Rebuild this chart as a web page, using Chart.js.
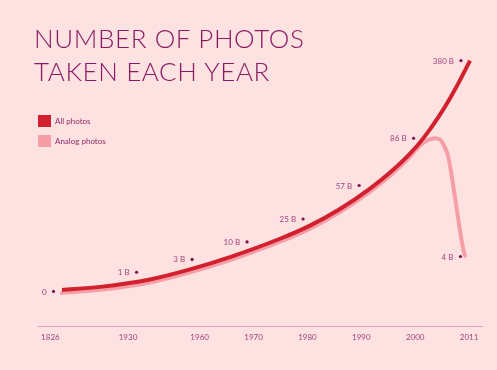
<!DOCTYPE html>
<html>
<head>
<meta charset="utf-8">
<script src="https://cdn.jsdelivr.net/npm/chart.js@4/dist/chart.umd.min.js"></script>
<style>
  html, body { margin: 0; padding: 0; background: #fde2e1; }
  #wrap { position: relative; width: 497px; height: 370px; overflow: hidden; background: #fde2e1; }
  #title {
    position: absolute; left: 34px; top: 21.5px; margin: 0;
    font-family: Lato, "Open Sans", sans-serif; font-weight: 300;
    font-size: 26px; line-height: 33.5px; letter-spacing: 0.6px;
    color: #8c1c62; white-space: nowrap;
  }
  canvas { position: absolute; left: 0; top: 0; }
</style>
</head>
<body>
<div id="wrap">
  <canvas id="c" width="497" height="370"></canvas>
  <h1 id="title">NUMBER OF PHOTOS<br>TAKEN EACH YEAR</h1>
</div>
<script>
// ---- data ----
// x axis: a stretched timeline; each labelled year sits at its slot
const tickYears = ['1826', '1930', '1960', '1970', '1980', '1990', '2000', '2011'];
const tickSlots = [2.3, 16.7, 30, 40, 50, 60, 70, 80];

// "All photos" curve (timeline slot, visual height level)
const allSlots  = [4.45, 11.51, 20.79, 28.21, 35.63, 44.91, 50.48, 56.05, 61.62, 65.33, 69.04, 71.64, 74.24, 76.47, 78.32, 80.18];
const allLevels = [12.7, 13.8, 16.4, 19.9, 24.2, 30.6, 35.2, 41.0, 48.1, 53.7, 60.3, 66.0, 72.9, 79.7, 86.0, 92.8];

// "Analog photos" curve
const analogSlots  = [4.45, 11.51, 20.79, 28.21, 35.63, 44.91, 50.48, 56.05, 61.62, 65.33, 69.04, 70.9, 72.4, 73.7, 74.6, 75.35, 76.15, 77.08, 78.0, 78.93, 79.25];
const analogLevels = [11.65, 12.75, 15.35, 18.85, 23.15, 29.55, 34.15, 39.95, 47.05, 52.6, 59.2, 63.2, 65.1, 65.7, 65.3, 63.1, 59.2, 48.8, 37.3, 26.8, 24.7];

// annotated values (marker dots with labels)
const valueLabels = ['0', '1 B', '3 B', '10 B', '25 B', '57 B', '86 B', '380 B', '4 B'];
const valueSlots  = [2.88, 18.3, 28.6, 38.8, 49.2, 59.6, 69.7, 78.5, 78.4];
const valueLevels = [12.2, 18.9, 23.4, 29.5, 37.5, 49.2, 65.7, 92.8, 24.4];

const seriesNames = ['All photos', 'Analog photos'];

// ---- styling ----
const RED = '#d2202f';
const PINK = '#f59ea6';
const DOT = '#7a1252';
const LABEL = '#a2457c';
const AXIS = '#d8a4bd';
const FONT = 'Lato, "Open Sans", sans-serif';

const toPoints = (xs, ys) => xs.map((x, i) => ({ x, y: ys[i] }));

const valueLabelPlugin = {
  id: 'valueLabels',
  afterDatasetsDraw(chart) {
    const meta = chart.getDatasetMeta(2);
    const ctx = chart.ctx;
    ctx.save();
    ctx.font = '8px ' + FONT;
    ctx.fillStyle = LABEL;
    ctx.textAlign = 'right';
    ctx.textBaseline = 'middle';
    meta.data.forEach((pt, i) => ctx.fillText(valueLabels[i], pt.x - 7, pt.y + 0.5));
    ctx.restore();
  }
};

const LEGEND_DROP = 67;
const legendPlacement = {
  id: 'legendPlacement',
  afterLayout(chart) {
    const lg = chart.legend;
    if (!lg) return;
    const pad = lg.options.labels.padding;
    const w = lg.width, h = lg.height;
    lg.left = chart.chartArea.left - pad;
    lg.top = chart.chartArea.top + LEGEND_DROP;
    lg.right = lg.left + w;
    lg.bottom = lg.top + h;
  }
};

new Chart(document.getElementById('c'), {
  type: 'line',
  data: {
    datasets: [
      {
        label: seriesNames[0],
        data: toPoints(allSlots, allLevels),
        borderColor: RED, backgroundColor: RED,
        borderWidth: 4, pointRadius: 0, fill: false,
        cubicInterpolationMode: 'monotone'
      },
      {
        label: seriesNames[1],
        data: toPoints(analogSlots, analogLevels),
        borderColor: PINK, backgroundColor: PINK,
        borderWidth: 4, pointRadius: 0, fill: false,
        borderCapStyle: 'round',
        cubicInterpolationMode: 'monotone'
      },
      {
        label: 'values',
        type: 'scatter',
        data: toPoints(valueSlots, valueLevels),
        showLine: false,
        pointRadius: 1.6, pointBorderWidth: 0,
        pointBackgroundColor: DOT, borderColor: DOT, backgroundColor: DOT
      }
    ]
  },
  options: {
    responsive: false,
    animation: false,
    devicePixelRatio: 1,
    layout: { padding: { left: 38, right: 15, top: 40, bottom: 22 } },
    scales: {
      x: {
        type: 'linear', min: 0, max: 82.4,
        grid: { display: false, drawTicks: false },
        border: { display: true, color: AXIS, width: 1 },
        afterBuildTicks: (scale) => { scale.ticks = tickSlots.map(v => ({ value: v })); },
        ticks: {
          autoSkip: false, maxRotation: 0, padding: 6,
          color: LABEL, font: { family: FONT, size: 8 },
          callback: (value, index) => tickYears[index]
        }
      },
      y: { type: 'linear', display: false, min: 0, max: 100 }
    },
    plugins: {
      title: { display: false },
      tooltip: { enabled: false },
      legend: {
        display: true,
        position: 'chartArea',
        align: 'start',
        labels: {
          boxWidth: 13, boxHeight: 12, padding: 8,
          color: '#8e2a68', font: { family: FONT, size: 8 },
          filter: (item) => item.datasetIndex < 2,
          generateLabels: (chart) => Chart.defaults.plugins.legend.labels.generateLabels(chart)
            .map(it => Object.assign(it, { lineWidth: 0 }))
        }
      }
    }
  },
  plugins: [valueLabelPlugin, legendPlacement]
});
</script>
</body>
</html>
